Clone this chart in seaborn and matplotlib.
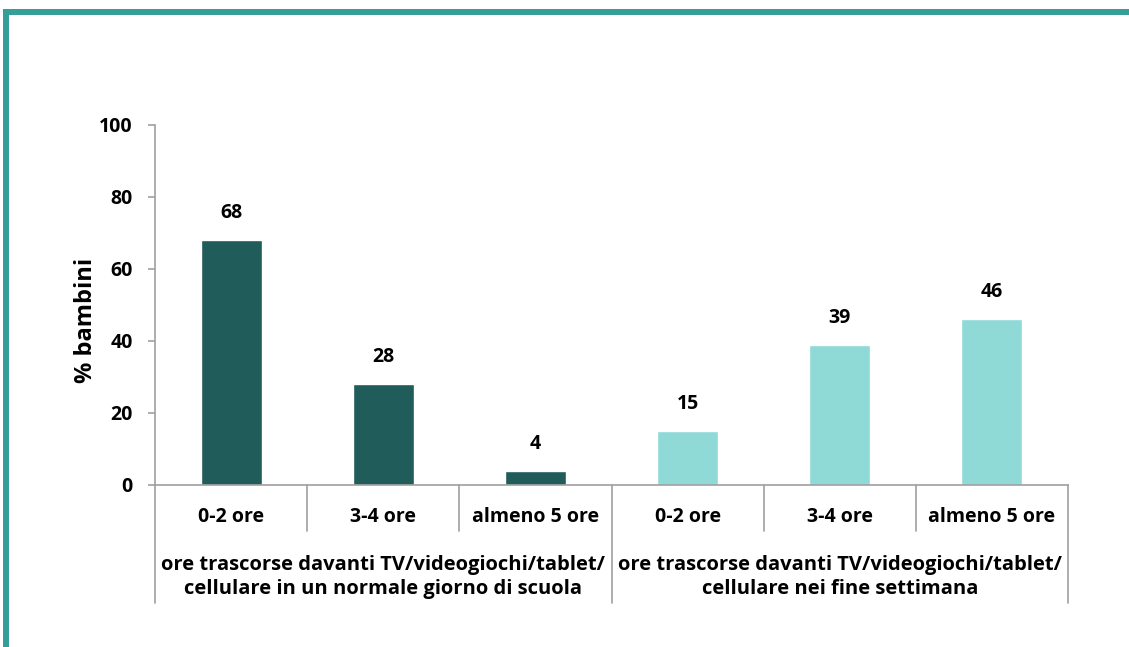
import matplotlib
matplotlib.use("Agg")
import matplotlib.pyplot as plt
import seaborn as sns
import pandas as pd
from matplotlib.lines import Line2D

categories = ["0-2 ore", "3-4 ore", "almeno 5 ore", "0-2 ore", "3-4 ore", "almeno 5 ore"]
groups = ["ore trascorse davanti TV/videogiochi/tablet/\ncellulare in un normale giorno di scuola",
          "ore trascorse davanti TV/videogiochi/tablet/\ncellulare nei fine settimana"]
group_of_bar = [0, 0, 0, 1, 1, 1]
values = [68, 28, 4, 15, 39, 46]
yticks = [0, 20, 40, 60, 80, 100]
ylabel = "% bambini"
colors = ["#1f5c5a", "#8fdad7"]

sns.set_theme(style="white")
plt.rcParams['font.family'] = ['Open Sans', 'DejaVu Sans']
plt.rcParams['text.color'] = 'black'
plt.rcParams['axes.labelcolor'] = 'black'
plt.rcParams['ytick.labelcolor'] = 'black'

df = pd.DataFrame({
    "key": [f"{i}" for i in range(len(values))],
    "value": values,
    "group": [groups[g] for g in group_of_bar],
})

W, H = 1129, 647
fig = plt.figure(figsize=(W / 100, H / 100), dpi=100)
ax = fig.add_axes([155 / W, 1 - 485 / H, (1068 - 155) / W, (485 - 125) / H])

sns.barplot(data=df, x="key", y="value", hue="group", palette=colors,
            dodge=False, width=0.4, legend=False, ax=ax, saturation=1)

FS = 14
ax.set_xlim(-0.5, len(values) - 0.5)
ax.set_ylim(0, 100)
ax.set_yticks(yticks)
ax.set_yticklabels([str(t) for t in yticks], fontsize=FS, fontweight="bold", color="black")
ax.set_xticks([])
ax.set_xlabel("")
ax.set_ylabel(ylabel, fontsize=17, fontweight="bold", color="black")
ax.yaxis.set_label_coords((98 - 155) / 913, (485 - 320) / 360)

gray = "#a0a0a0"
for s in ["top", "right"]:
    ax.spines[s].set_visible(False)
for s in ["left", "bottom"]:
    ax.spines[s].set_color(gray)
    ax.spines[s].set_linewidth(1.2)
ax.tick_params(axis="y", length=5, width=1.2, color=gray, left=True, pad=11)

# value labels
for i, v in enumerate(values):
    ax.annotate(str(v), (i, v), xytext=(0, 19.5), textcoords="offset points",
                ha="center", va="center", fontsize=FS, fontweight="bold", color="black")

# category separators & labels
tr = ax.get_xaxis_transform()
ah = 360.0
for b in range(len(values) + 1):
    xb = b - 0.5
    if b % 3 == 0:
        y1 = -(603 - 485) / ah
    else:
        y1 = -(531 - 485) / ah
    ax.add_line(Line2D([xb, xb], [0, y1], transform=tr, color=gray, lw=1.2, clip_on=False))

for i, c in enumerate(categories):
    ax.text(i, -(517 - 485) / ah, c, transform=tr, ha="center", va="center",
            fontsize=FS, fontweight="bold", color="black")

for g, label in enumerate(groups):
    xc = g * 3 + 1
    ax.text(xc, -(577 - 485) / ah, label, transform=tr, ha="center", va="center",
            fontsize=14.5, fontweight="bold", linespacing=1.3, color="black")

# frame border
border = "#349e98"
fig.add_artist(Line2D([3 / W, 1], [1 - 12 / H, 1 - 12 / H], color=border, lw=4.3,
                      solid_capstyle="butt", transform=fig.transFigure))
fig.add_artist(Line2D([6 / W, 6 / W], [1 - 9 / H, 0], color=border, lw=4.3,
                      solid_capstyle="butt", transform=fig.transFigure))

fig.savefig("out.png", dpi=100)
